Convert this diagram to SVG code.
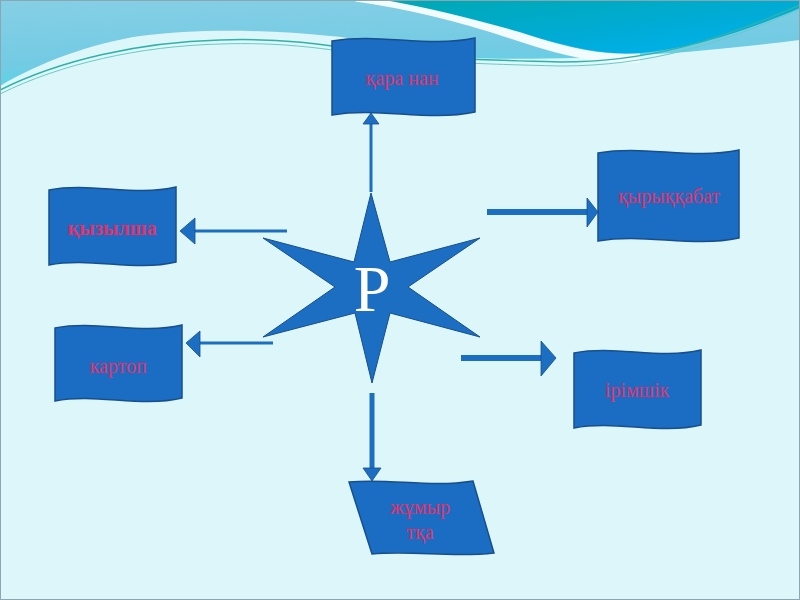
<svg xmlns="http://www.w3.org/2000/svg" width="800" height="600" viewBox="0 0 800 600">
<defs>
<linearGradient id="lb" x1="0" y1="0" x2="0.3" y2="1">
<stop offset="0" stop-color="#86cfe6"/>
<stop offset="0.7" stop-color="#72cbe3"/>
<stop offset="1" stop-color="#55d6e8"/>
</linearGradient>
<linearGradient id="dk" x1="0" y1="0" x2="1" y2="1">
<stop offset="0" stop-color="#00a8b2"/>
<stop offset="0.6" stop-color="#00acd8"/>
<stop offset="1" stop-color="#00b4f4"/>
</linearGradient>
</defs>
<style>
.box{fill:#1b6dc3;stroke:#174f8c;stroke-width:1.5}
.lbl{font-family:"Liberation Serif","DejaVu Serif",serif;font-size:20px;fill:#e3306a;text-anchor:middle}
.ln{stroke:#1b6ec2;fill:none}
.hd{fill:#1b6ec2;stroke:#174f8c;stroke-width:0.8}
</style>
<rect width="800" height="600" fill="#ddf6fa"/>
<path d="M0,0 H800 V40 C760,45 700,52 640,55 C590,58 520,60 470,58 C420,55 380,40 330,36 C270,30 200,28 140,36 C90,44 40,62 0,86 Z" fill="url(#lb)"/>
<path d="M356,-3 C420,6 470,20 520,37 C565,52 600,60 640,58" fill="none" stroke="#f2fbfd" stroke-width="9"/>
<path d="M385,0 H800 V8 C760,25 700,48 640,53 C600,56 560,45 520,32 C470,18 430,8 385,0 Z" fill="url(#dk)"/>
<path d="M0,90 C60,60 140,42 220,40 C280,38 320,44 360,50 C420,58 480,60 560,62 C650,62 720,40 800,5" fill="none" stroke="#2fb3a8" stroke-width="1.5"/>
<path d="M0,94 C60,64 140,46 220,44 C280,42 320,48 360,54 C420,62 480,64 560,66 C650,66 720,44 800,9" fill="none" stroke="#6cc9c6" stroke-width="1"/>
<rect x="0.5" y="0.5" width="799" height="599" fill="none" stroke="#8aa6b0" stroke-width="1"/>

<g id="connectors">
<line class="ln" x1="371" y1="192" x2="371" y2="124" stroke-width="3"/>
<path class="hd" d="M371,113 L379,124 L363,124 Z"/>
<line class="ln" x1="287" y1="231" x2="194" y2="231" stroke-width="3"/>
<path class="hd" d="M180,231 L195,218 L195,244 Z"/>
<line class="ln" x1="487" y1="212" x2="589" y2="212" stroke-width="6"/>
<path class="hd" d="M598,212 L587,198 L587,227 Z"/>
<line class="ln" x1="273" y1="343" x2="199" y2="343" stroke-width="3"/>
<path class="hd" d="M186,343 L200,331 L200,357 Z"/>
<line class="ln" x1="461" y1="358" x2="542" y2="358" stroke-width="6"/>
<path class="hd" d="M556,358 L541,341 L541,376 Z"/>
<line class="ln" x1="372" y1="393" x2="372" y2="469" stroke-width="5"/>
<path class="hd" d="M372,481 L363,468 L381,468 Z"/>
</g>

<g id="star">
<path d="M371,193 L390,262 L480,238 L408,287 L480,337 L390,313 L372,383 L355,313 L263,337 L335,287 L263,238 L354,262 Z" fill="#1b6ec2" stroke="#174f8c" stroke-width="1"/>
<text x="372" y="311" font-family="Liberation Serif,DejaVu Serif,serif" font-size="66" fill="#ffffff" text-anchor="middle">Р</text>
</g>

<g id="node-kara-nan">
<path class="box" d="M332,41 C380,33 427,48 475,38 L475,112 C427,122 380,107 332,115 Z"/>
<text class="lbl" x="402" y="85">қара нан</text>
</g>
<g id="node-kyzylsha">
<path class="box" d="M49,190 C91,182 134,197 176,187 L176,262 C134,272 91,257 49,265 Z"/>
<text class="lbl" x="112" y="235" font-weight="bold" font-size="18">қызылша</text>
</g>
<g id="node-kyrykkabat">
<path class="box" d="M598,153 C645,145 692,160 739,150 L739,238 C692,248 645,233 598,241 Z"/>
<text class="lbl" x="669" y="203">қырыққабат</text>
</g>
<g id="node-kartop">
<path class="box" d="M55,328 C97,320 140,335 182,325 L182,398 C140,408 97,393 55,401 Z"/>
<text class="lbl" x="118" y="373">картоп</text>
</g>
<g id="node-irimshik">
<path class="box" d="M574,353 C616,345 659,360 701,350 L701,425 C659,435 616,420 574,428 Z"/>
<text class="lbl" x="637" y="397">ірімшік</text>
</g>
<g id="node-zhumyrtka">
<path class="box" d="M349,482 C390,478 430,488 473,481 L494,553 C452,558 412,550 372,554 Z"/>
<text class="lbl" x="420" y="514">жұмыр</text>
<text class="lbl" x="420" y="539">тқа</text>
</g>
</svg>
